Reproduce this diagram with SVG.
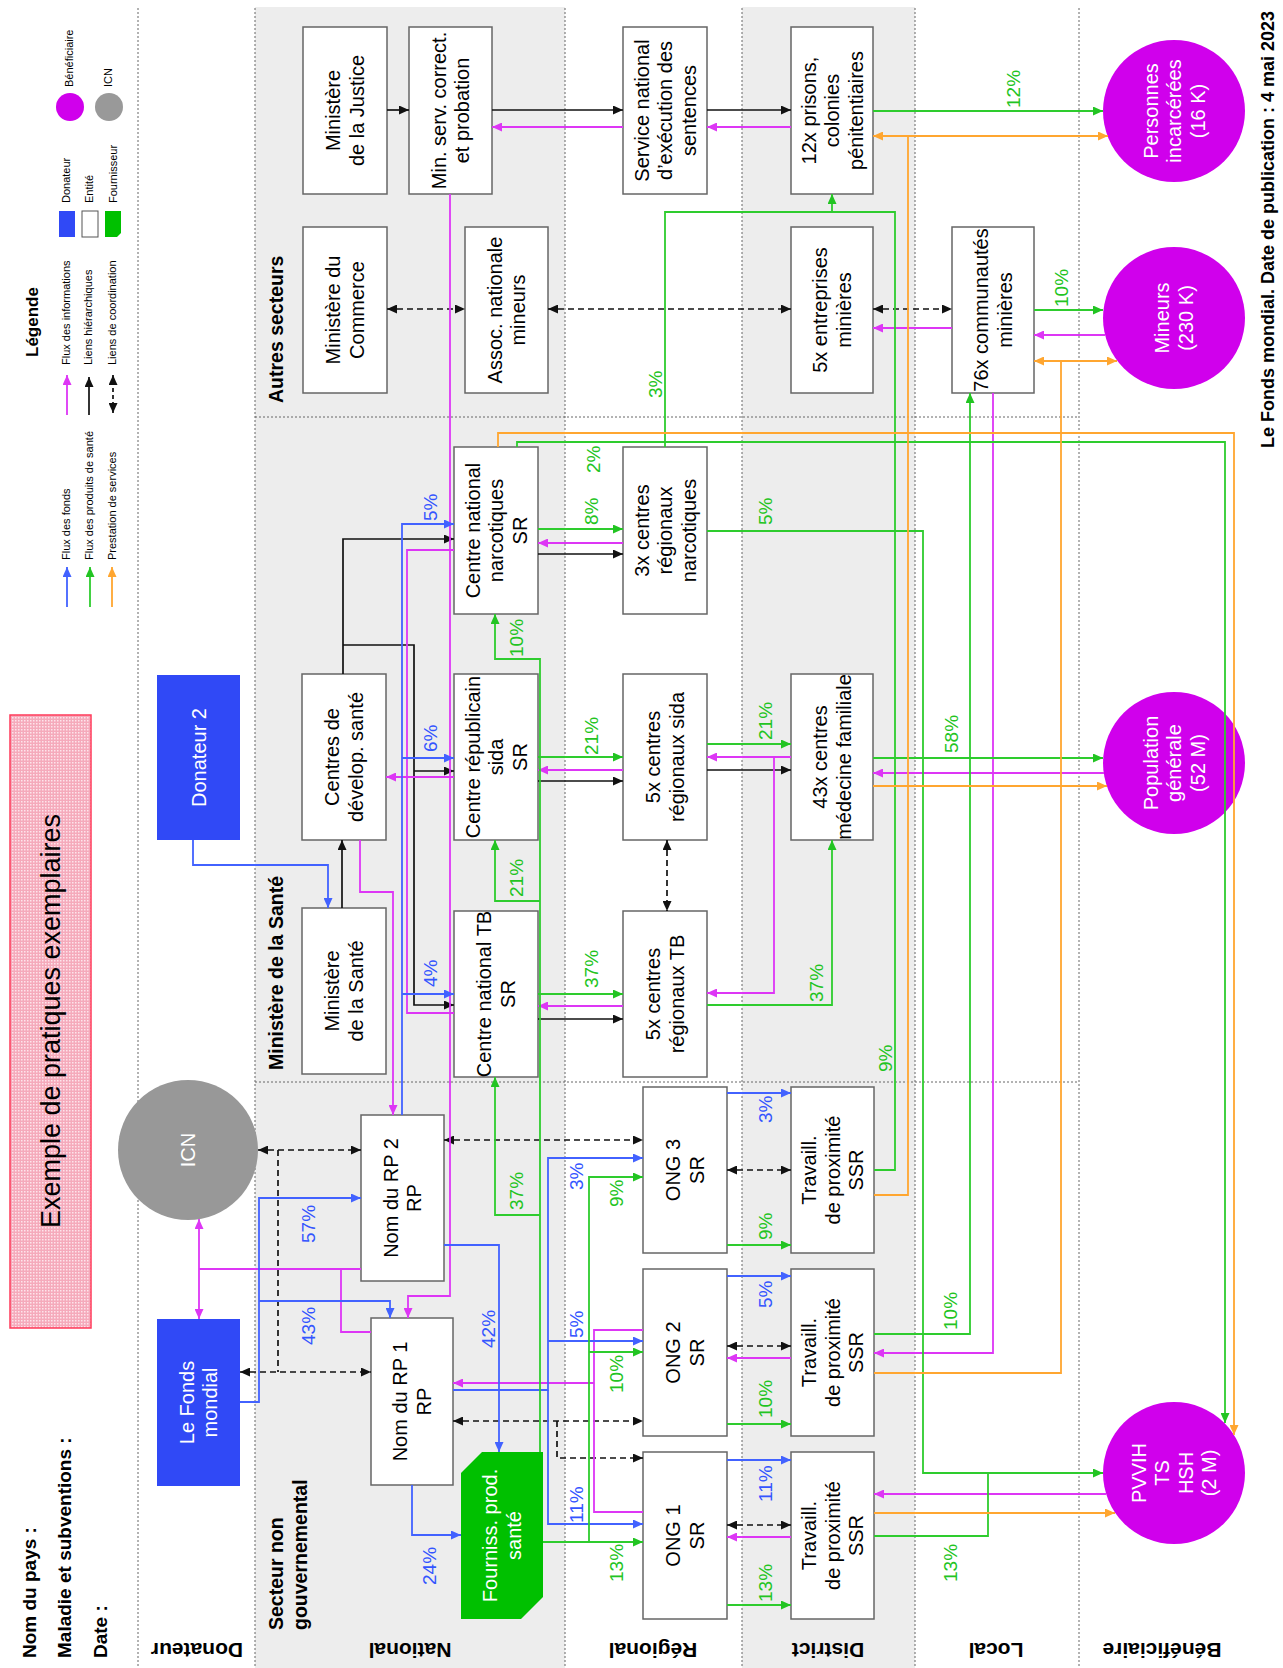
<svg xmlns="http://www.w3.org/2000/svg" width="1283" height="1668" viewBox="0 0 1283 1668">
<style>
.k{fill:none;stroke:#111;stroke-width:1.7}
.d{fill:none;stroke:#111;stroke-width:1.7;stroke-dasharray:6 4}
.b{fill:none;stroke:#4262ff;stroke-width:1.8}
.g{fill:none;stroke:#2ecc2e;stroke-width:1.8}
.m{fill:none;stroke:#dd36f5;stroke-width:1.8}
.o{fill:none;stroke:#ffa630;stroke-width:1.8}
.dv{fill:none;stroke:#666;stroke-width:1;stroke-dasharray:2 2}
.box{fill:#fff;stroke:#666;stroke-width:1.5}
.don{fill:#3049f6}
.ben{fill:#d000ec}
.t{font-family:"Liberation Sans",Arial,sans-serif;font-size:20px;fill:#000;text-anchor:middle}
.w{fill:#fff}
.p{font-family:"Liberation Sans",Arial,sans-serif;font-size:19px}
.pg{fill:#22c422}
.pb{fill:#3355ff}
.hb{font-family:"Liberation Sans",Arial,sans-serif;font-weight:bold;fill:#000}
.lg{font-family:"Liberation Sans",Arial,sans-serif;font-size:11px;fill:#000}
</style>
<defs>
<marker id="ak" viewBox="0 0 10 9" refX="10" refY="4.5" markerWidth="10" markerHeight="9" markerUnits="userSpaceOnUse" orient="auto-start-reverse"><path d="M0,0L10,4.5L0,9z" fill="#111"/></marker>
<marker id="ab" viewBox="0 0 10 9" refX="10" refY="4.5" markerWidth="10" markerHeight="9" markerUnits="userSpaceOnUse" orient="auto-start-reverse"><path d="M0,0L10,4.5L0,9z" fill="#4262ff"/></marker>
<marker id="ag" viewBox="0 0 10 9" refX="10" refY="4.5" markerWidth="10" markerHeight="9" markerUnits="userSpaceOnUse" orient="auto-start-reverse"><path d="M0,0L10,4.5L0,9z" fill="#22c422"/></marker>
<marker id="am" viewBox="0 0 10 9" refX="10" refY="4.5" markerWidth="10" markerHeight="9" markerUnits="userSpaceOnUse" orient="auto-start-reverse"><path d="M0,0L10,4.5L0,9z" fill="#dd36f5"/></marker>
<marker id="ao" viewBox="0 0 10 9" refX="10" refY="4.5" markerWidth="10" markerHeight="9" markerUnits="userSpaceOnUse" orient="auto-start-reverse"><path d="M0,0L10,4.5L0,9z" fill="#ffa630"/></marker>
<pattern id="pk" width="3" height="3" patternUnits="userSpaceOnUse"><rect width="3" height="3" fill="#f5aabb"/><rect width="1.5" height="1.5" fill="#fde4eb"/></pattern>
</defs>

<g id="background">
<rect x="255" y="7" width="310" height="1661" fill="#ededed"/>
<rect x="742" y="7" width="173" height="1661" fill="#ededed"/>
<path class="dv" d="M138,8V1668M255,8V1668M565,8V1668M742,8V1668M915,8V1668M1079,8V1668M255,417H1079M255,1082H1079"/>
</g>

<g id="header">
<rect x="10" y="715" width="81" height="613" fill="url(#pk)" stroke="#ff3a5a" stroke-width="1.5"/>
<text class="t" style="font-size:27px" transform="translate(60,1021) rotate(-90)">Exemple de pratiques exemplaires</text>
<text class="hb" style="font-size:19px" transform="translate(36,1658) rotate(-90)">Nom du pays :</text>
<text class="hb" style="font-size:19px" transform="translate(71,1658) rotate(-90)">Maladie et subventions :</text>
<text class="hb" style="font-size:19px" transform="translate(107,1658) rotate(-90)">Date :</text>
<text class="hb" style="font-size:18px" transform="translate(1274,448) rotate(-90)">Le Fonds mondial. Date de publication : 4 mai 2023</text>
</g>

<g id="legend">
<text class="hb" style="font-size:17px" transform="translate(38,357) rotate(-90)">Légende</text>
<path class="m" d="M67,415V375" marker-end="url(#am)"/>
<path class="k" d="M89,415V377" marker-end="url(#ak)"/>
<path class="d" style="stroke-dasharray:4 3" d="M113,413V375" marker-start="url(#ak)" marker-end="url(#ak)"/>
<path class="b" d="M67,607V567" marker-end="url(#ab)"/>
<path class="g" d="M90,607V567" marker-end="url(#ag)"/>
<path class="o" d="M112,607V567" marker-end="url(#ao)"/>
<text class="lg" transform="translate(70,365) rotate(-90)">Flux des informations</text>
<text class="lg" transform="translate(92,365) rotate(-90)">Liens hiérarchiques</text>
<text class="lg" transform="translate(116,365) rotate(-90)">Liens de coordination</text>
<text class="lg" transform="translate(70,560) rotate(-90)">Flux des fonds</text>
<text class="lg" transform="translate(93,560) rotate(-90)">Flux des produits de santé</text>
<text class="lg" transform="translate(116,560) rotate(-90)">Prestation de services</text>
<rect x="59" y="211" width="16" height="26" class="don"/>
<rect x="82" y="211" width="16" height="26" fill="#fff" stroke="#555" stroke-width="1"/>
<polygon points="105,211 121,211 121,233 117,237 105,237" fill="#00c000"/>
<text class="lg" transform="translate(70,203) rotate(-90)">Donateur</text>
<text class="lg" transform="translate(93,203) rotate(-90)">Entité</text>
<text class="lg" transform="translate(117,203) rotate(-90)">Fournisseur</text>
<circle cx="70" cy="107" r="14" class="ben"/>
<circle cx="109" cy="107" r="14" fill="#999"/>
<text class="lg" transform="translate(73,87) rotate(-90)">Bénéficiaire</text>
<text class="lg" transform="translate(112,87) rotate(-90)">ICN</text>
</g>

<g id="lane-labels">
<text class="hb" style="font-size:21px" text-anchor="middle" transform="translate(197,1643) rotate(180)">Donateur</text>
<text class="hb" style="font-size:21px" text-anchor="middle" transform="translate(410,1643) rotate(180)">National</text>
<text class="hb" style="font-size:21px" text-anchor="middle" transform="translate(653,1643) rotate(180)">Régional</text>
<text class="hb" style="font-size:21px" text-anchor="middle" transform="translate(828,1643) rotate(180)">District</text>
<text class="hb" style="font-size:21px" text-anchor="middle" transform="translate(996,1643) rotate(180)">Local</text>
<text class="hb" style="font-size:21px" text-anchor="middle" transform="translate(1162,1643) rotate(180)">Bénéficiaire</text>
<text class="hb" style="font-size:19.5px" transform="translate(283,403) rotate(-90)">Autres secteurs</text>
<text class="hb" style="font-size:19.5px" transform="translate(283,1070) rotate(-90)">Ministère de la Santé</text>
<text class="hb" style="font-size:19.5px" transform="translate(283,1630) rotate(-90)">Secteur non</text>
<text class="hb" style="font-size:19.5px" transform="translate(307,1630) rotate(-90)">gouvernemental</text>
</g>

<g id="n-justice"><rect class="box" x="303" y="27" width="84" height="167"/><text class="t" transform="translate(345,110.5) rotate(-90)"><tspan x="0" y="-4.75">Ministère</tspan><tspan x="0" y="18.75">de la Justice</tspan></text></g>
<g id="n-servcorrect"><rect class="box" x="409" y="27" width="83" height="167"/><text class="t" transform="translate(450.5,110.5) rotate(-90)"><tspan x="0" y="-4.75">Min. serv. correct.</tspan><tspan x="0" y="18.75">et probation</tspan></text></g>
<g id="n-sentences"><rect class="box" x="623" y="27" width="84" height="167"/><text class="t" transform="translate(665,110.5) rotate(-90)"><tspan x="0" y="-16.5">Service national</tspan><tspan x="0" y="7">d’exécution des</tspan><tspan x="0" y="30.5">sentences</tspan></text></g>
<g id="n-prisons"><rect class="box" x="791" y="27" width="82" height="167"/><text class="t" transform="translate(832,110.5) rotate(-90)"><tspan x="0" y="-16.5">12x prisons,</tspan><tspan x="0" y="7">colonies</tspan><tspan x="0" y="30.5">pénitentiaires</tspan></text></g>
<g id="n-commerce"><rect class="box" x="303" y="227" width="84" height="166"/><text class="t" transform="translate(345,310) rotate(-90)"><tspan x="0" y="-4.75">Ministère du</tspan><tspan x="0" y="18.75">Commerce</tspan></text></g>
<g id="n-assoc"><rect class="box" x="465" y="227" width="83" height="166"/><text class="t" transform="translate(506.5,310) rotate(-90)"><tspan x="0" y="-4.75">Assoc. nationale</tspan><tspan x="0" y="18.75">mineurs</tspan></text></g>
<g id="n-entreprises"><rect class="box" x="791" y="227" width="82" height="166"/><text class="t" transform="translate(832,310) rotate(-90)"><tspan x="0" y="-4.75">5x entreprises</tspan><tspan x="0" y="18.75">minières</tspan></text></g>
<g id="n-communautes"><rect class="box" x="952" y="227" width="82" height="166"/><text class="t" transform="translate(993,310) rotate(-90)"><tspan x="0" y="-4.75">76x communautés</tspan><tspan x="0" y="18.75">minières</tspan></text></g>
<g id="n-devsante"><rect class="box" x="302" y="674" width="84" height="166"/><text class="t" transform="translate(344,757) rotate(-90)"><tspan x="0" y="-4.75">Centres de</tspan><tspan x="0" y="18.75">dévelop. santé</tspan></text></g>
<g id="n-minsante"><rect class="box" x="302" y="908" width="84" height="166"/><text class="t" transform="translate(344,991) rotate(-90)"><tspan x="0" y="-4.75">Ministère</tspan><tspan x="0" y="18.75">de la Santé</tspan></text></g>
<g id="n-cnnarco"><rect class="box" x="454" y="447" width="84" height="167"/><text class="t" transform="translate(496,530.5) rotate(-90)"><tspan x="0" y="-16.5">Centre national</tspan><tspan x="0" y="7">narcotiques</tspan><tspan x="0" y="30.5">SR</tspan></text></g>
<g id="n-crsida"><rect class="box" x="454" y="674" width="84" height="166"/><text class="t" transform="translate(496,757) rotate(-90)"><tspan x="0" y="-16.5">Centre républicain</tspan><tspan x="0" y="7">sida</tspan><tspan x="0" y="30.5">SR</tspan></text></g>
<g id="n-cntb"><rect class="box" x="454" y="911" width="84" height="166"/><text class="t" transform="translate(496,994) rotate(-90)"><tspan x="0" y="-4.75">Centre national TB</tspan><tspan x="0" y="18.75">SR</tspan></text></g>
<g id="n-rnarco"><rect class="box" x="623" y="447" width="84" height="167"/><text class="t" transform="translate(665,530.5) rotate(-90)"><tspan x="0" y="-16.5">3x centres</tspan><tspan x="0" y="7">régionaux</tspan><tspan x="0" y="30.5">narcotiques</tspan></text></g>
<g id="n-rsida"><rect class="box" x="623" y="674" width="84" height="166"/><text class="t" transform="translate(665,757) rotate(-90)"><tspan x="0" y="-4.75">5x centres</tspan><tspan x="0" y="18.75">régionaux sida</tspan></text></g>
<g id="n-rtb"><rect class="box" x="623" y="911" width="84" height="166"/><text class="t" transform="translate(665,994) rotate(-90)"><tspan x="0" y="-4.75">5x centres</tspan><tspan x="0" y="18.75">régionaux TB</tspan></text></g>
<g id="n-medfam"><rect class="box" x="791" y="674" width="82" height="166"/><text class="t" transform="translate(832,757) rotate(-90)"><tspan x="0" y="-4.75">43x centres</tspan><tspan x="0" y="18.75">médecine familiale</tspan></text></g>
<g id="n-rp2"><rect class="box" x="361" y="1115" width="83" height="166"/><text class="t" transform="translate(402.5,1198) rotate(-90)"><tspan x="0" y="-4.75">Nom du RP 2</tspan><tspan x="0" y="18.75">RP</tspan></text></g>
<g id="n-rp1"><rect class="box" x="371" y="1318" width="82" height="167"/><text class="t" transform="translate(412,1401.5) rotate(-90)"><tspan x="0" y="-4.75">Nom du RP 1</tspan><tspan x="0" y="18.75">RP</tspan></text></g>
<g id="n-fourniss"><polygon points="482,1452 543,1452 543,1597 521,1619 461,1619 461,1473" fill="#00c000"/><text class="t w" transform="translate(502,1535.5) rotate(-90)"><tspan x="0" y="-4.75">Fourniss. prod.</tspan><tspan x="0" y="18.75">santé</tspan></text></g>
<g id="n-ong3"><rect class="box" x="643" y="1087" width="84" height="166"/><text class="t" transform="translate(685,1170) rotate(-90)"><tspan x="0" y="-4.75">ONG 3</tspan><tspan x="0" y="18.75">SR</tspan></text></g>
<g id="n-ong2"><rect class="box" x="643" y="1269" width="84" height="167"/><text class="t" transform="translate(685,1352.5) rotate(-90)"><tspan x="0" y="-4.75">ONG 2</tspan><tspan x="0" y="18.75">SR</tspan></text></g>
<g id="n-ong1"><rect class="box" x="643" y="1452" width="84" height="167"/><text class="t" transform="translate(685,1535.5) rotate(-90)"><tspan x="0" y="-4.75">ONG 1</tspan><tspan x="0" y="18.75">SR</tspan></text></g>
<g id="n-trav3"><rect class="box" x="791" y="1087" width="83" height="166"/><text class="t" transform="translate(832.5,1170) rotate(-90)"><tspan x="0" y="-16.5">Travaill.</tspan><tspan x="0" y="7">de proximité</tspan><tspan x="0" y="30.5">SSR</tspan></text></g>
<g id="n-trav2"><rect class="box" x="791" y="1269" width="83" height="167"/><text class="t" transform="translate(832.5,1352.5) rotate(-90)"><tspan x="0" y="-16.5">Travaill.</tspan><tspan x="0" y="7">de proximité</tspan><tspan x="0" y="30.5">SSR</tspan></text></g>
<g id="n-trav1"><rect class="box" x="791" y="1452" width="83" height="167"/><text class="t" transform="translate(832.5,1535.5) rotate(-90)"><tspan x="0" y="-16.5">Travaill.</tspan><tspan x="0" y="7">de proximité</tspan><tspan x="0" y="30.5">SSR</tspan></text></g>
<g id="n-donateur2"><rect class="don" x="157" y="675" width="83" height="165"/><text class="t w" transform="translate(198.5,757.5) rotate(-90)"><tspan x="0" y="7">Donateur 2</tspan></text></g>
<g id="n-fondsmondial"><rect class="don" x="157" y="1319" width="83" height="167"/><text class="t w" transform="translate(198.5,1402.5) rotate(-90)"><tspan x="0" y="-4.75">Le Fonds</tspan><tspan x="0" y="18.75">mondial</tspan></text></g>
<g id="n-icn"><circle cx="188" cy="1150" r="70" fill="#989898"/><text class="t w" transform="translate(188,1150) rotate(-90)"><tspan x="0" y="7">ICN</tspan></text></g>
<g id="n-incarcerees"><circle cx="1174" cy="111" r="71" class="ben"/><text class="t w" transform="translate(1174,111) rotate(-90)"><tspan x="0" y="-16.5">Personnes</tspan><tspan x="0" y="7">incarcérées</tspan><tspan x="0" y="30.5">(16 K)</tspan></text></g>
<g id="n-mineurs"><circle cx="1174" cy="318" r="71" class="ben"/><text class="t w" transform="translate(1174,318) rotate(-90)"><tspan x="0" y="-4.75">Mineurs</tspan><tspan x="0" y="18.75">(230 K)</tspan></text></g>
<g id="n-population"><circle cx="1174" cy="763" r="71" class="ben"/><text class="t w" transform="translate(1174,763) rotate(-90)"><tspan x="0" y="-16.5">Population</tspan><tspan x="0" y="7">générale</tspan><tspan x="0" y="30.5">(52 M)</tspan></text></g>
<g id="n-pvvih"><circle cx="1174" cy="1473" r="71" class="ben"/><text class="t w" transform="translate(1174,1473) rotate(-90)"><tspan x="0" y="-28.25">PVVIH</tspan><tspan x="0" y="-4.75">TS</tspan><tspan x="0" y="18.75">HSH</tspan><tspan x="0" y="42.25">(2 M)</tspan></text></g>

<g id="connectors">
<!-- black hierarchical -->
<path class="k" d="M387,110H409" marker-end="url(#ak)"/>
<path class="k" d="M492,110H623" marker-end="url(#ak)"/>
<path class="k" d="M707,110H791" marker-end="url(#ak)"/>
<path class="k" d="M342,908V840" marker-end="url(#ak)"/>
<path class="k" d="M343,674V539H454" marker-end="url(#ak)"/>
<path class="k" d="M343,645H414V1005H454" marker-end="url(#ak)"/>
<path class="k" d="M414,771H454" marker-end="url(#ak)"/>
<path class="k" d="M538,554H623" marker-end="url(#ak)"/>
<path class="k" d="M538,781H623" marker-end="url(#ak)"/>
<path class="k" d="M538,1019H623" marker-end="url(#ak)"/>
<path class="k" d="M707,770H791" marker-end="url(#ak)"/>
<!-- dashed coordination -->
<path class="d" d="M387,309H465" marker-start="url(#ak)" marker-end="url(#ak)"/>
<path class="d" d="M548,309H791" marker-start="url(#ak)" marker-end="url(#ak)"/>
<path class="d" d="M873,309H952" marker-start="url(#ak)" marker-end="url(#ak)"/>
<path class="d" d="M258,1150H361" marker-start="url(#ak)" marker-end="url(#ak)"/>
<path class="d" d="M278,1150V1372"/>
<path class="d" d="M240,1372H371" marker-start="url(#ak)" marker-end="url(#ak)"/>
<path class="d" d="M444,1140H643" marker-start="url(#ak)" marker-end="url(#ak)"/>
<path class="d" d="M453,1421H643" marker-start="url(#ak)" marker-end="url(#ak)"/>
<path class="d" d="M557,1421V1458H643" marker-end="url(#ak)"/>
<path class="d" d="M667,840V911" marker-start="url(#ak)" marker-end="url(#ak)"/>
<path class="d" d="M727,1170H791" marker-start="url(#ak)" marker-end="url(#ak)"/>
<path class="d" d="M727,1346H791" marker-start="url(#ak)" marker-end="url(#ak)"/>
<path class="d" d="M727,1525H791" marker-start="url(#ak)" marker-end="url(#ak)"/>
<!-- magenta information -->
<path class="m" d="M623,127H492" marker-end="url(#am)"/>
<path class="m" d="M791,127H707" marker-end="url(#am)"/>
<path class="m" d="M952,328H873" marker-end="url(#am)"/>
<path class="m" d="M1105,335H1034" marker-end="url(#am)"/>
<path class="m" d="M450,194V1296H408V1318" marker-end="url(#am)"/>
<path class="m" d="M454,550H407V1013H454"/>
<path class="m" d="M454,777H386" marker-end="url(#am)"/>
<path class="m" d="M360,840V892H393V1115" marker-end="url(#am)"/>
<path class="m" d="M361,1269H199"/>
<path class="m" d="M199,1269V1219" marker-end="url(#am)"/>
<path class="m" d="M199,1269V1319" marker-end="url(#am)"/>
<path class="m" d="M371,1332H341V1269"/>
<path class="m" d="M623,543H538" marker-end="url(#am)"/>
<path class="m" d="M623,770H538" marker-end="url(#am)"/>
<path class="m" d="M623,1006H538" marker-end="url(#am)"/>
<path class="m" d="M791,757H707" marker-end="url(#am)"/>
<path class="m" d="M774,757V993H707" marker-end="url(#am)"/>
<path class="m" d="M1104,773H873" marker-end="url(#am)"/>
<path class="m" d="M643,1330H594V1512H643"/>
<path class="m" d="M594,1383H453" marker-end="url(#am)"/>
<path class="m" d="M791,1358H727" marker-end="url(#am)"/>
<path class="m" d="M791,1537H727" marker-end="url(#am)"/>
<path class="m" d="M993,393V1353H874" marker-end="url(#am)"/>
<path class="m" d="M1106,1494H874" marker-end="url(#am)"/>
<!-- blue funds -->
<path class="b" d="M193,840V865H328V908" marker-end="url(#ab)"/>
<path class="b" d="M240,1402H259V1198H361" marker-end="url(#ab)"/>
<path class="b" d="M259,1301H390V1318" marker-end="url(#ab)"/>
<path class="b" d="M402,1115V524H454" marker-end="url(#ab)"/>
<path class="b" d="M402,758H454" marker-end="url(#ab)"/>
<path class="b" d="M402,994H454" marker-end="url(#ab)"/>
<path class="b" d="M444,1245H499V1452" marker-end="url(#ab)"/>
<path class="b" d="M412,1485V1535H461" marker-end="url(#ab)"/>
<path class="b" d="M453,1390H548V1158H643" marker-end="url(#ab)"/>
<path class="b" d="M548,1390V1524H643" marker-end="url(#ab)"/>
<path class="b" d="M548,1341H643" marker-end="url(#ab)"/>
<path class="b" d="M727,1093H791" marker-end="url(#ab)"/>
<path class="b" d="M727,1276H791" marker-end="url(#ab)"/>
<path class="b" d="M727,1460H791" marker-end="url(#ab)"/>
<!-- green health products -->
<path class="g" d="M873,111H1103" marker-end="url(#ag)"/>
<path class="g" d="M1034,310H1103" marker-end="url(#ag)"/>
<path class="g" d="M874,1170H895V212H832V194" marker-end="url(#ag)"/>
<path class="g" d="M665,447V212H832"/>
<path class="g" d="M517,447V442H1225V1423" marker-end="url(#ag)"/>
<path class="g" d="M538,529H623" marker-end="url(#ag)"/>
<path class="g" d="M538,757H623" marker-end="url(#ag)"/>
<path class="g" d="M538,994H623" marker-end="url(#ag)"/>
<path class="g" d="M707,531H923V1473H1103" marker-end="url(#ag)"/>
<path class="g" d="M874,1536H988V1473"/>
<path class="g" d="M707,744H791" marker-end="url(#ag)"/>
<path class="g" d="M707,1005H832V840" marker-end="url(#ag)"/>
<path class="g" d="M873,758H1103" marker-end="url(#ag)"/>
<path class="g" d="M540,1452V659H495V614" marker-end="url(#ag)"/>
<path class="g" d="M540,901H495V840" marker-end="url(#ag)"/>
<path class="g" d="M540,1215H495V1077" marker-end="url(#ag)"/>
<path class="g" d="M543,1542H643" marker-end="url(#ag)"/>
<path class="g" d="M589,1542V1177H643" marker-end="url(#ag)"/>
<path class="g" d="M589,1352H643" marker-end="url(#ag)"/>
<path class="g" d="M727,1245H791" marker-end="url(#ag)"/>
<path class="g" d="M727,1424H791" marker-end="url(#ag)"/>
<path class="g" d="M727,1605H791" marker-end="url(#ag)"/>
<path class="g" d="M874,1334H970V393" marker-end="url(#ag)"/>
<!-- orange services -->
<path class="o" d="M874,1195H908V136"/>
<path class="o" d="M873,136H1108" marker-start="url(#ao)" marker-end="url(#ao)"/>
<path class="o" d="M874,1373H1061V361"/>
<path class="o" d="M1034,361H1117" marker-start="url(#ao)" marker-end="url(#ao)"/>
<path class="o" d="M498,447V433H1234V1435" marker-end="url(#ao)"/>
<path class="o" d="M873,786H1107" marker-end="url(#ao)"/>
<path class="o" d="M874,1513H1115" marker-end="url(#ao)"/>
</g>

<g id="labels">
<text class="p pg" transform="translate(1020,108) rotate(-90)">12%</text>
<text class="p pg" transform="translate(1068,307) rotate(-90)">10%</text>
<text class="p pg" transform="translate(662,398) rotate(-90)">3%</text>
<text class="p pg" transform="translate(892,1072) rotate(-90)">9%</text>
<text class="p pg" transform="translate(600,473) rotate(-90)">2%</text>
<text class="p pg" transform="translate(598,525) rotate(-90)">8%</text>
<text class="p pg" transform="translate(772,525) rotate(-90)">5%</text>
<text class="p pg" transform="translate(598,755) rotate(-90)">21%</text>
<text class="p pg" transform="translate(772,740) rotate(-90)">21%</text>
<text class="p pg" transform="translate(958,753) rotate(-90)">58%</text>
<text class="p pg" transform="translate(598,988) rotate(-90)">37%</text>
<text class="p pg" transform="translate(823,1002) rotate(-90)">37%</text>
<text class="p pg" transform="translate(523,657) rotate(-90)">10%</text>
<text class="p pg" transform="translate(523,897) rotate(-90)">21%</text>
<text class="p pg" transform="translate(523,1210) rotate(-90)">37%</text>
<text class="p pg" transform="translate(623,1207) rotate(-90)">9%</text>
<text class="p pg" transform="translate(623,1393) rotate(-90)">10%</text>
<text class="p pg" transform="translate(623,1582) rotate(-90)">13%</text>
<text class="p pg" transform="translate(772,1240) rotate(-90)">9%</text>
<text class="p pg" transform="translate(772,1418) rotate(-90)">10%</text>
<text class="p pg" transform="translate(772,1602) rotate(-90)">13%</text>
<text class="p pg" transform="translate(957,1330) rotate(-90)">10%</text>
<text class="p pg" transform="translate(957,1582) rotate(-90)">13%</text>
<text class="p pb" transform="translate(437,521) rotate(-90)">5%</text>
<text class="p pb" transform="translate(437,752) rotate(-90)">6%</text>
<text class="p pb" transform="translate(437,987) rotate(-90)">4%</text>
<text class="p pb" transform="translate(315,1243) rotate(-90)">57%</text>
<text class="p pb" transform="translate(315,1345) rotate(-90)">43%</text>
<text class="p pb" transform="translate(495,1348) rotate(-90)">42%</text>
<text class="p pb" transform="translate(436,1585) rotate(-90)">24%</text>
<text class="p pb" transform="translate(583,1190) rotate(-90)">3%</text>
<text class="p pb" transform="translate(583,1338) rotate(-90)">5%</text>
<text class="p pb" transform="translate(583,1523) rotate(-90)">11%</text>
<text class="p pb" transform="translate(772,1123) rotate(-90)">3%</text>
<text class="p pb" transform="translate(772,1308) rotate(-90)">5%</text>
<text class="p pb" transform="translate(772,1502) rotate(-90)">11%</text>
</g>
</svg>
